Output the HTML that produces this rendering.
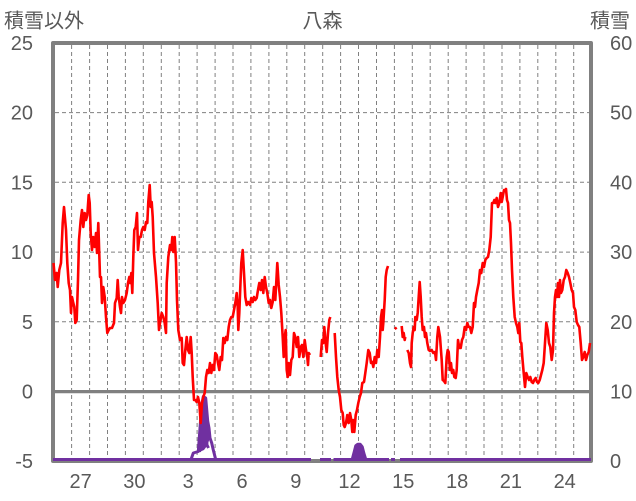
<!DOCTYPE html>
<html><head><meta charset="utf-8"><style>
html,body{margin:0;padding:0;background:#fff;}
svg{display:block;}
text{font-family:"Liberation Sans","Noto Sans CJK JP",sans-serif;font-size:20px;fill:#595959;}
</style></head><body>
<svg width="636" height="501" viewBox="0 0 636 501" xmlns="http://www.w3.org/2000/svg">
<rect width="636" height="501" fill="#fff"/>
<g stroke="#808080" stroke-width="1" stroke-dasharray="4 3" fill="none">
<path d="M71.6 45V459M89.6 45V459M107.5 45V459M125.4 45V459M143.3 45V459M161.3 45V459M179.2 45V459M197.1 45V459M215.1 45V459M233 45V459M250.9 45V459M268.9 45V459M286.8 45V459M304.7 45V459M322.7 45V459M340.6 45V459M358.5 45V459M376.5 45V459M394.4 45V459M412.3 45V459M430.2 45V459M448.2 45V459M466.1 45V459M484 45V459M502 45V459M519.9 45V459M537.8 45V459M555.8 45V459M573.7 45V459"/>
<path d="M55 112.6H589M55 182.3H589M55 252.1H589M55 321.8H589"/>
</g>
<line x1="53" y1="391.6" x2="591" y2="391.6" stroke="#808080" stroke-width="3.2"/>
<path d="M53 461V43H591V461Z" fill="none" stroke="#808080" stroke-width="4" stroke-linejoin="round"/>
<g stroke="#7030a0" stroke-width="3" fill="none" stroke-linejoin="round">
<path d="M53 459.5H311M320 459.5H331M333.5 459.5H389M391 459.5H395M400 459.5H591"/>
<polyline points="191,459.5 193.3,453 198.3,451.5 200,428 201.7,405 203.3,396.5 205.7,398 207.7,421 209,428 210,438 211.7,443 213.3,450 215.7,459.5"/>
<polyline points="199.5,452 201,440 203,410 205,405 206,430 207,445 208.5,448"/>
</g>
<polyline points="352.5,459.5 354.5,452 356,446 358,444.5 360,444.5 362,447 363.5,453 365.5,459.5" fill="#7030a0" stroke="#7030a0" stroke-width="3.6" stroke-linejoin="round"/>
<polygon points="199.5,452 200,428 201.7,405 203.3,396.5 205.7,398 207.7,421 209,428 210,438 207,446 204,450" fill="#7030a0"/>
<g stroke="#ff0000" stroke-width="2.6" fill="none" stroke-linejoin="round">
<polyline points="53.5,263 55,280 56.7,273 57.7,287 59.3,270 61,263 62.7,223 64,207 66,230 67.3,263 68.7,283 70,290 71,313 72,297 73.3,303 74.3,307 75.3,323 76.7,320 78,280 79,240 80.7,220 82,210 83.3,227 84.7,213 86,220 87.3,215 88.7,195 89.7,203 90.7,233 92,250 93.3,237 94.7,247 96,233 97,253 98.3,223 100,277 101,277 102,303 103.3,287 104.7,297 106,317 107.3,333 108.7,330 110,328 112,328 114,323 115,303 116.7,298 117.7,280 118.7,297 120,307 121,313 122,297 123.3,303 125,300 126.7,293 128,283 129.3,277 130.3,283 131.3,273 132.3,293 133.3,257 134.3,230 135.7,227 137,213 138,250 139.3,237 140.7,237 142,230 143.3,227 144.7,230 146,222 147.3,223 148.3,202 149.7,185 150.7,207 151.7,202 152.7,217 154,253 156,277 157.7,303 159,330 160,323 161.7,313 163.3,317 164.7,323 166,333 166.7,283 168.3,257 170,245 171.3,250 172.3,237 173.3,252 174.7,237 176,262 177,300 178.3,330 180,340 181.7,338 182.7,363 184,365 185.3,350 186.7,337 188,350 189.3,353 190.7,337 191.7,353 192.7,377 194,400 195.3,400 196.7,402 198,397 199.3,403 200.7,423 202,403 203.3,397 204.7,393 206,377 207.3,370 208.7,373 210,363 211.3,373 212.7,365 214,370 215.3,353 216.7,355 218,363 219.3,370 220.7,357 222,360 223.3,338 224.7,343 226,337 227.3,340 228.7,327 230,320 231.3,317 232.7,317 234,310 235.3,303 236.7,293 237.7,307 238.3,330 239.3,313 240.3,287 241.3,263 242.7,250 244,273 245.3,297 246.7,305 248.3,302 250,305 251.3,298 252.7,302 254,297 255.3,300 256.7,298 258,290 259.3,283 260.7,290 262,280 263.3,293 264.7,277 266,287 267.3,293 268.7,303 270,300 271.3,308 272.7,302 274,287 275.3,300 276.3,282 277.3,263 278.7,285 280,297 281.3,313 282.7,337 283.7,357 284.7,337 285.7,330 286.7,370 287.7,377 288.7,363 290,375 291.3,360 292.7,357 294,333 295.3,337 296.7,347 298,337 299.3,357 300.7,347 302,345 303.3,357 304.7,340 306,350 307.3,357 308,365 308.7,353 310,355"/>
<polyline points="320.7,357 322,340 323.3,343 324.3,327 325.3,340 326.7,352 328,333 329.3,320 330.3,317"/>
<polyline points="334.7,333 336,357 337.3,377 338.7,390 340,397 341.3,410 342.7,413 343.7,425 344.7,427 346,423 347.3,415 348.7,423 350,413 351.3,420 352.3,432 353.3,420 354.3,432 355.7,415 357,410 358.3,403 359.7,397 361,393 362.3,383 364,382 365.3,373 366.7,363 368.3,350 369.7,353 371,363 372.3,362 373.3,367 374.7,357 376,363 377.3,350 378.7,357 380,337 381,317 382,310 382.7,330 383.3,323 384.7,300 385.7,277 386.7,270 388,266"/>
<polyline points="394.7,329 396.7,327.5"/>
<polyline points="401.7,326 402.7,337 403.7,333 404.7,340 405.3,337"/>
<polyline points="407.3,350 408.7,353 410,363 411,367 411.7,343 412.7,333 413.7,327 414.7,330 415.3,317 416.7,320 417.7,313 418.7,297 419.7,282 420.7,297 421.7,317 422.7,330 424,327 425,337 426,333 427.3,343 428.7,350 430,351 431.7,350 433.3,353 435,352 436,360 437.3,337 438.3,327 440,337 441.7,360 442.7,380 444,381 445.3,383 446.7,357 447.7,350 448.7,352 450,370 451,363 452,373 453.3,370 454.3,377 455.7,378 456.7,370 458,340 459.3,348 460.7,348 462,340 463.3,337 464.7,327 466,330 467.3,323 468.7,327 470,327 471.3,333 472.7,327 474,303 475,307 476,297 477.3,290 478.7,283 480,270 481.3,273 482.7,263 484,267 485.3,260 486.7,258 488,257 489.3,250 490.7,237 492,203 493.3,203 494.3,200 495.3,203 496.7,198 498,207 499.3,203 500.7,193 501.7,202 502.7,197 504,190 505.3,190 506,189 507,200 508,203 509,220 510,223 511,243 512,270 513.3,297 514.7,317 516,323 517.3,327 518.3,333 519.3,323 520.3,342 521.3,343 522.3,357 523.7,373 525,387 526.3,373 527.7,377 529,380 530.3,377 531.7,382 533,383 534.3,380 535.7,378 537,382 538.3,383 539.7,380 541,375 542.3,370 543.7,363 545,343 546.3,323 547.7,330 549,343 550.3,347 551.7,360 553,350 554,313 555,297 556,290 557,297 558,283 559,297 560,280 561,293 562.3,290 563.7,280 565,277 566.3,270 567.7,273 569,277 570.3,283 571.7,290 573,293 574,307 575.3,310 576.7,322 578,325 579.3,327 580.7,343 582,360 583.3,357 584.7,352 586,360 587.3,355 588.7,352 590,343"/>
</g>
<g text-anchor="end">
<text x="33" y="50">25</text>
<text x="33" y="119.6">20</text>
<text x="33" y="189.3">15</text>
<text x="33" y="259.1">10</text>
<text x="33" y="328.8">5</text>
<text x="33" y="398.6">0</text>
<text x="33" y="468">-5</text>
</g>
<g text-anchor="start">
<text x="610" y="50">60</text>
<text x="610" y="119.6">50</text>
<text x="610" y="189.3">40</text>
<text x="610" y="259.1">30</text>
<text x="610" y="328.8">20</text>
<text x="610" y="398.6">10</text>
<text x="610" y="468">0</text>
</g>
<g text-anchor="middle">
<text x="80.6" y="488">27</text>
<text x="134.4" y="488">30</text>
<text x="188.2" y="488">3</text>
<text x="242" y="488">6</text>
<text x="295.8" y="488">9</text>
<text x="349.5" y="488">12</text>
<text x="403.3" y="488">15</text>
<text x="457.1" y="488">18</text>
<text x="510.9" y="488">21</text>
<text x="564.7" y="488">24</text>
</g>
<text x="4" y="27.5">積雪以外</text>
<text x="322.5" y="27.5" text-anchor="middle">八森</text>
<text x="590" y="27.5">積雪</text>
</svg>
</body></html>
